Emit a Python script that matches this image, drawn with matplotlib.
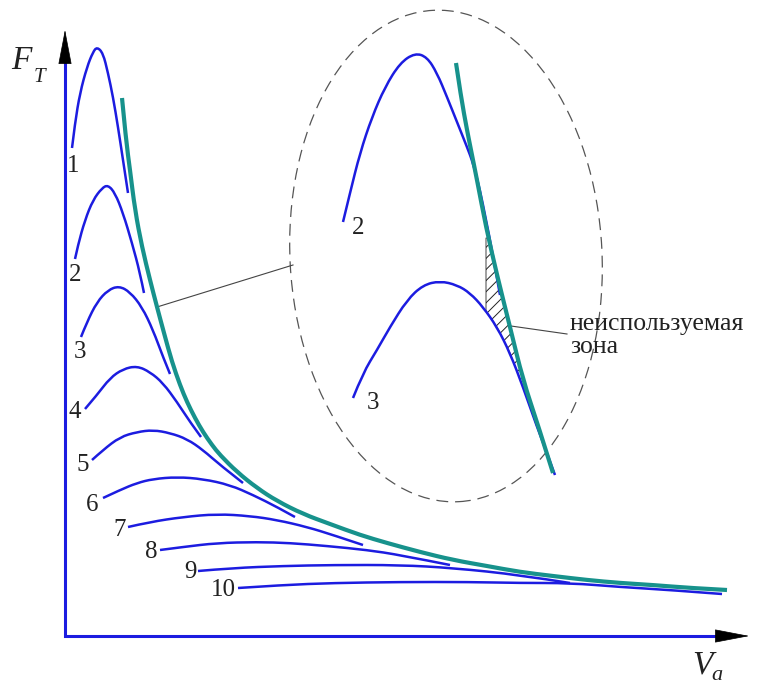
import numpy as np
import matplotlib.pyplot as plt
from matplotlib.patches import Ellipse, FancyArrowPatch, ArrowStyle, PathPatch
from matplotlib.path import Path

plt.rcParams['font.family'] = 'Liberation Serif'
plt.rcParams['hatch.linewidth'] = 0.7

# Tractive force curves for gears 1..10 (V, F)
v1 = [7, 10, 15, 22, 28, 32, 38, 43, 48, 53, 58, 63]
f1 = [488, 513, 543, 569, 584, 589, 583, 563, 539, 509, 476, 443]
v2 = [10, 13, 20, 28, 37, 43, 50, 58, 67, 75, 79]
f2 = [377, 391, 416, 436, 448, 451, 443, 423, 393, 363, 343]
v3 = [16, 22, 32, 43, 54, 65, 77, 88, 98, 105]
f3 = [299, 314, 334, 346, 350, 344, 329, 306, 279, 262]
v4 = [20, 32, 45, 58, 72, 85, 98, 112, 125, 136]
f4 = [227, 241, 258, 267, 270, 264, 253, 234, 214, 199]
v5 = [27, 38, 55, 72, 88, 105, 122, 138, 155, 178]
f5 = [176, 186, 199, 204, 206, 203, 197, 186, 171, 153]
v6 = [38, 55, 72, 88, 112, 138, 165, 188, 212, 230]
f6 = [138, 146, 153, 157, 159, 157, 151, 141, 129, 119]
v7 = [63, 85, 118, 152, 185, 212, 242, 268, 298]
f7 = [109, 114, 119, 122, 120, 116, 109, 101, 91]
v8 = [95, 118, 152, 192, 225, 262, 302, 335, 385]
f8 = [86, 89, 93, 94, 93, 90, 86, 81, 71]
v9 = [133, 168, 218, 268, 335, 388, 455, 505]
f9 = [65, 68, 70, 71, 71, 68, 61, 53]
v10 = [173, 218, 268, 335, 405, 455, 505, 555, 605, 657]
f10 = [48, 51, 53, 54, 54, 53, 53, 49, 46, 42]
curve_labels = ['1', '2', '3', '4', '5', '6', '7', '8', '9', '10']

# ideal traction hyperbola
env_v = [57, 61, 65, 70, 77, 85, 92, 99, 107, 115, 122, 130, 138, 147, 155,
         172, 192, 212, 238, 265, 295, 322, 355, 388, 422, 455, 488, 522,
         555, 588, 625, 662]
env_f = [538, 496, 466, 426, 389, 356, 329, 303, 274, 251, 234, 218, 204,
         191, 181, 164, 148, 135, 122, 112, 101, 93, 84, 76, 70, 64, 60, 56,
         53, 51, 48, 46]

# magnified view
zoom2_v = [278, 285, 295, 307, 320, 335, 350, 362, 372, 382, 392, 402, 408,
           415, 421, 427, 435]
zoom2_f = [414, 443, 483, 519, 549, 573, 583, 579, 563, 539, 514, 489, 473,
           446, 416, 386, 341]
zoom3_v = [288, 298, 312, 325, 342, 358, 375, 392, 405, 418, 432, 445, 458,
           472, 482, 490]
zoom3_f = [238, 263, 286, 309, 336, 351, 355, 351, 343, 329, 309, 283, 249,
           209, 183, 161]
zoom_env_v = [391, 396, 402, 407, 412, 421, 432, 445, 458, 473, 488]
zoom_env_f = [573, 539, 506, 481, 456, 409, 361, 309, 256, 211, 163]
hatch_left_v = 421
hatch_top_f = 398

blue = '#1c1ce0'
teal = '#17928c'
ink = '#222222'


def smooth(ax, v, f, **kw):
    # quadratic spline through the read points, drawn by matplotlib's Path
    p = np.column_stack([v, f]).astype(float)
    verts, codes = [p[0]], [Path.MOVETO]
    n = len(p)
    for i in range(1, n - 1):
        end = p[n - 1] if i == n - 2 else (p[i] + p[i + 1]) / 2
        verts += [p[i], end]
        codes += [Path.CURVE3, Path.CURVE3]
    if n == 2:
        verts.append(p[1])
        codes.append(Path.LINETO)
    ax.add_patch(PathPatch(Path(verts, codes), fill=False, **kw))


fig = plt.figure(figsize=(7.57, 6.86), dpi=100)
ax = fig.add_axes([0, 0, 1, 1])
ax.set_xlim(-65, 692)
ax.set_ylim(-50, 636)
ax.axis('off')

# axes with arrows
ax.plot([0, 0, 660], [574, 0, 0], color=blue, lw=2.2, solid_joinstyle='miter', zorder=3)
for a, b in [((0, 570), (0, 609)), ((655, 0), (687, 0))]:
    ax.add_patch(FancyArrowPatch(a, b, arrowstyle=ArrowStyle('-|>', head_length=23, head_width=4.4),
                                 mutation_scale=1, color='black', lw=0.5, zorder=4))
ax.text(-44, 575, 'F', fontsize=24, style='italic', ha='center', va='center', color=ink)
ax.text(-26, 559, 'T', fontsize=15, style='italic', ha='center', va='center', color=ink)
ax.text(637, -29, 'V', fontsize=24, style='italic', ha='center', va='center', color=ink)
ax.text(652, -40, 'a', fontsize=16, style='italic', ha='center', va='center', color=ink)

curves_v = [v1, v2, v3, v4, v5, v6, v7, v8, v9, v10]
curves_f = [f1, f2, f3, f4, f5, f6, f7, f8, f9, f10]
label_pos = [(8, 470), (10, 361), (15, 284), (10, 224), (18, 171), (27, 131),
             (55, 106), (86, 84), (125, 64), (158, 46)]
for v, f, lab, (lx, ly) in zip(curves_v, curves_f, curve_labels, label_pos):
    smooth(ax, v, f, ec=blue, lw=1.8, capstyle='butt', zorder=2)
    ax.text(lx, ly, lab, fontsize=18, ha='center', va='center', color=ink)

smooth(ax, env_v, env_f, ec=teal, lw=3.0, capstyle='butt', zorder=3)

# magnified region
ax.add_patch(Ellipse((381, 380), 312, 492, angle=3, fill=False, ec='#555555',
                     lw=0.9, ls=(0, (9.5, 5.5)), zorder=1))
ax.plot([92, 228], [329, 371], color='#444444', lw=0.8, zorder=1)

F = np.linspace(150, hatch_top_f, 200)
c3v = np.array(zoom3_v[6:])[::-1]
c3f = np.array(zoom3_f[6:])[::-1]
left = np.maximum(hatch_left_v, np.interp(F, c3f, c3v))
right = np.interp(F, np.array(zoom_env_f)[::-1], np.array(zoom_env_v)[::-1])
ok = right > left
ax.fill_betweenx(F[ok], left[ok], right[ok], facecolor='none', edgecolor='#222222',
                 hatch='///', lw=0.6, zorder=1)

smooth(ax, zoom2_v, zoom2_f, ec=blue, lw=1.8, zorder=2)
smooth(ax, zoom3_v, zoom3_f, ec=blue, lw=1.8, zorder=2)
smooth(ax, zoom_env_v, zoom_env_f, ec=teal, lw=3.0, capstyle='butt', zorder=3)
ax.text(293, 408, '2', fontsize=18, ha='center', va='center', color=ink)
ax.text(308, 233, '3', fontsize=18, ha='center', va='center', color=ink)

ax.plot([446, 502], [310, 302], color='#444444', lw=0.8, zorder=1)
ax.text(505, 306, 'неиспользуемая', fontsize=18.5, ha='left', va='baseline', color=ink)
ax.text(505, 283, 'зона', fontsize=18.5, ha='left', va='baseline', color=ink)

fig.savefig('out.png', dpi=100)
